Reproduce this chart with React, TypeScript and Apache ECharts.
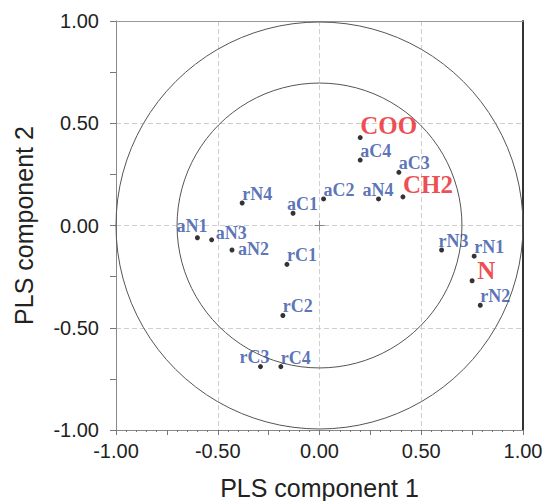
import React, { useEffect, useRef } from "react";
import * as echarts from "echarts";

// Loadings (PLS component 1, PLS component 2)
const names = ["COO", "aC4", "aC3", "CH2", "aN4", "aC2", "aC1", "rN4", "aN1", "aN3", "aN2", "rC1", "rC2", "rC3", "rC4", "rN3", "rN1", "N", "rN2"];
const comp1 = [0.20, 0.20, 0.39, 0.41, 0.29, 0.02, -0.13, -0.38, -0.60, -0.53, -0.43, -0.16, -0.18, -0.29, -0.19, 0.60, 0.76, 0.75, 0.79];
const comp2 = [0.43, 0.32, 0.26, 0.14, 0.13, 0.13, 0.06, 0.11, -0.06, -0.07, -0.12, -0.19, -0.44, -0.69, -0.69, -0.12, -0.15, -0.27, -0.39];
const highlighted = ["COO", "CH2", "N"];
const circleRadii = [1.0, 0.7];
const origin = [[0, 0]];

// label placement (pixel offsets of label left / vertical centre from the dot)
const labelOffsets: Record<string, [number, number]> = {
  COO: [0, -12], CH2: [0, -12], N: [5, -10],
  aN1: [-21, -12], aN3: [4, -7], aN2: [6, -1], aN4: [-16, -9],
  aC1: [-6, -9], rN3: [-3, -9], rC3: [-21, -10],
};

const fmt = (v: number) => (Math.abs(v * 2 - Math.round(v * 2)) < 1e-6 ? v.toFixed(2) : "");

export default function App() {
  const ref = useRef<HTMLDivElement>(null);
  useEffect(() => {
    const chart = echarts.init(ref.current!, null, { renderer: "svg", width: 543, height: 501 });
    const sym = 5;
    const data = names.map((n, i) => {
      const off = labelOffsets[n] || [0, -9];
      const hi = highlighted.includes(n);
      return {
        name: n,
        value: [comp1[i], comp2[i]],
        label: {
          show: true,
          formatter: n,
          position: [off[0] + sym / 2, off[1] + sym / 2],
          align: "left",
          verticalAlign: "middle",
          fontFamily: "Liberation Serif",
          fontSize: hi ? 25 : 18,
          fontWeight: "bold",
          color: hi ? "#e81e25" : "#3150a5",
        },
      };
    });
    const tickFont = { fontFamily: "Liberation Sans", fontSize: 20, color: "#222" };
    chart.setOption({
      animation: false,
      grid: { left: 116, right: 20, top: 21, bottom: 71, containLabel: false, outerBoundsMode: "none" },
      xAxis: [
        {
          type: "value", min: -1, max: 1, interval: 0.25, position: "bottom",
          axisLine: { onZero: false, lineStyle: { color: "#888", width: 1 } },
          axisTick: { show: true, length: 5, lineStyle: { color: "#777" } },
          minorTick: { show: true, splitNumber: 5, length: 2, lineStyle: { color: "#777" } },
          axisLabel: { ...tickFont, margin: 11, formatter: fmt },
          splitLine: { show: false },
          name: "PLS component 1", nameLocation: "middle", nameGap: 45,
          nameTextStyle: { fontFamily: "Liberation Sans", fontSize: 25, color: "#222" },
        },
        {
          type: "value", min: -1, max: 1, interval: 0.5, position: "top",
          axisLine: { onZero: false, lineStyle: { color: "#999", width: 1 } },
          axisTick: { show: false }, axisLabel: { show: false },
          splitLine: { show: true, lineStyle: { color: "#cfcfcf", type: [5, 3], width: 1 } },
        },
      ],
      yAxis: [
        {
          type: "value", min: -1, max: 1, interval: 0.25, position: "left",
          axisLine: { onZero: false, lineStyle: { color: "#888", width: 1 } },
          axisTick: { show: true, length: 6, lineStyle: { color: "#777" } },
          axisLabel: { ...tickFont, margin: 17, formatter: fmt },
          splitLine: { show: false },
          name: "PLS component 2", nameLocation: "middle", nameGap: 80, nameRotate: 90,
          nameTextStyle: { fontFamily: "Liberation Sans", fontSize: 25, color: "#222" },
        },
        {
          type: "value", min: -1, max: 1, interval: 0.5, position: "right",
          axisLine: { onZero: false, lineStyle: { color: "#333", width: 2 } },
          axisTick: { show: false }, axisLabel: { show: false },
          splitLine: { show: true, lineStyle: { color: "#cfcfcf", type: [5, 3], width: 1 } },
        },
      ],
      series: [
        {
          type: "custom", xAxisIndex: 0, yAxisIndex: 0, silent: true,
          data: circleRadii.map((r) => [0, 0, r]),
          renderItem: (_p: any, api: any) => {
            const c = api.coord([api.value(0), api.value(1)]);
            const r = api.size([api.value(2), 0])[0];
            return { type: "circle", shape: { cx: c[0], cy: c[1], r }, style: { fill: "none", stroke: "#555", lineWidth: 1 } };
          },
        },
        {
          type: "custom", xAxisIndex: 0, yAxisIndex: 0, silent: true,
          data: origin,
          renderItem: (_p: any, api: any) => {
            const c = api.coord([api.value(0), api.value(1)]);
            const s = 5;
            return {
              type: "group",
              children: [
                { type: "line", shape: { x1: c[0] - s, y1: c[1], x2: c[0] + s, y2: c[1] }, style: { stroke: "#888", lineWidth: 1 } },
                { type: "line", shape: { x1: c[0], y1: c[1] - s, x2: c[0], y2: c[1] + s }, style: { stroke: "#888", lineWidth: 1 } },
              ],
            };
          },
        },
        {
          type: "scatter", xAxisIndex: 0, yAxisIndex: 0,
          symbol: "circle", symbolSize: sym,
          itemStyle: { color: "#000" },
          data,
        },
      ],
    });
    return () => chart.dispose();
  }, []);
  return <div ref={ref} style={{ width: 543, height: 501, position: "absolute", left: 0, top: 0 }} />;
}
